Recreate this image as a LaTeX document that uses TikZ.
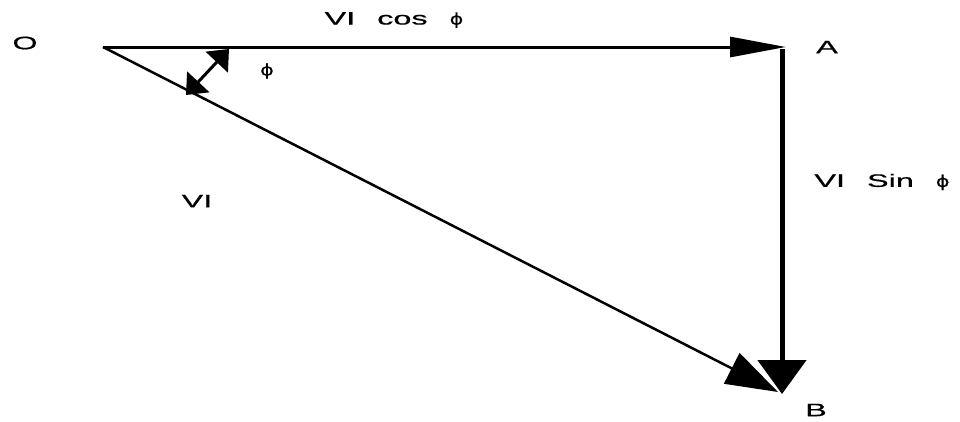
\documentclass[tikz,border=0pt]{standalone}
\usepackage{fontspec}
\setmainfont{Liberation Sans}
\newfontfamily\widefont[FakeStretch=1.8,FakeBold=0.6]{Liberation Sans}
\newfontfamily\phifont[FakeStretch=1.3,FakeBold=0.6]{DejaVu Sans}
\usetikzlibrary{arrows.meta}
\tikzset{
  lbl/.style={font=\fontsize{18}{20}\widefont, inner sep=1pt,
    execute at begin node={\spaceskip=22pt}},
  phasor/.style={line width=#1},
  anglemark/.style={line width=3pt, >={Triangle[length=18pt,width=30pt]}, <->},
}
\newcommand{\ph}{{\phifont\fontsize{16}{18}\selectfont ϕ}}
\begin{document}
\begin{tikzpicture}[x=1pt,y=-1pt]
    \useasboundingbox (0,0) rectangle (960,421);

    % corner points of the triangle
    \coordinate (O) at (103,47);
    \coordinate (A) at (786,47);
    \coordinate (B) at (782,394);
    \coordinate (Bd) at (778,392);
    \coordinate (Ah) at (782,49);

    % ends of the angle marker
    \coordinate (p1) at (229,49);
    \coordinate (p2) at (186,95);

    % phasors
    \draw[phasor=3pt, -{Triangle[length=56pt,width=20pt]}] (O) -- (A);
    \draw[phasor=5pt, -{Triangle[length=34pt,width=48pt]}] (Ah) -- (B);
    \draw[phasor=2.5pt, -{Triangle[length=52pt,width=34pt]}] (O) -- (Bd);

    % angle marker
    \draw[anglemark] (p1) -- (p2);

    % labels
    \node[lbl] (lO) at (25,43) {O};
    \node[lbl] (lA) at (827,47) {A};
    \node[lbl] (lB) at (816,410) {B};
    \node[lbl] (lcos) at (394,20) {VI cos \ph};
    \node[lbl] (lphi) at (267,71) {\ph};
    \node[lbl] (lVI) at (197,201) {VI};
    \node[lbl] (lsin) at (882,182) {VI Sin \ph};
\end{tikzpicture}
\end{document}
